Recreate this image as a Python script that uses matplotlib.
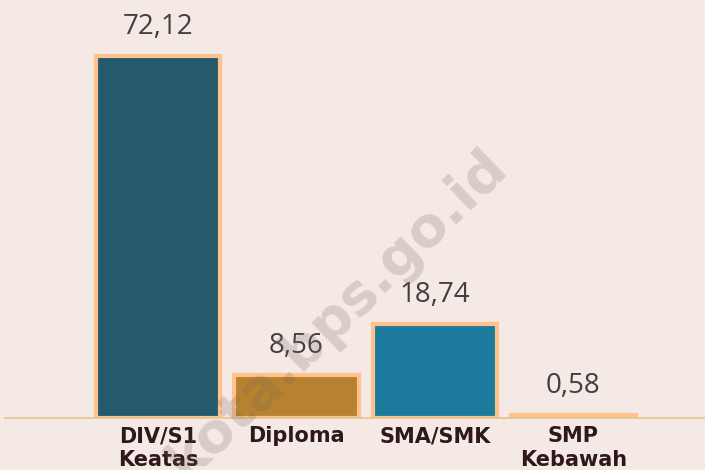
import matplotlib
matplotlib.use('Agg')
import matplotlib.pyplot as plt

# data
categories = ["DIV/S1\nKeatas", "Diploma", "SMA/SMK", "SMP\nKebawah"]
values = [72.12, 8.56, 18.74, 0.58]
value_labels = ["72,12", "8,56", "18,74", "0,58"]
bar_colors = ["#245a6b", "#b7822f", "#1c7a9c", "#e9a86a"]

bg = "#f4e9e5"

fig = plt.figure(figsize=(7.05, 4.7), dpi=100, facecolor=bg)
ax = fig.add_axes([5 / 705, 52 / 470, 700 / 705, 418 / 470])
ax.set_facecolor(bg)

x = list(range(len(categories)))
ax.bar(x, values, width=0.9, color=bar_colors, edgecolor="#ffc28c", linewidth=3, zorder=2)

# value labels above each bar
for xi, v, lab in zip(x, values, value_labels):
    ax.annotate(lab, (xi, v), xytext=(0, 16), textcoords="offset points",
                ha="center", va="baseline", fontsize=20, color="#404040",
                family="Open Sans")

ax.set_xlim(-1.105, 3.95)
ax.set_ylim(0, 83.3)

ax.set_xticks(x)
ax.set_xticklabels(categories, fontsize=15, fontweight="bold", color="#2e181c",
                   family="DejaVu Sans", linespacing=1.2)
ax.tick_params(axis="x", length=0, pad=6)
ax.set_yticks([])

for s in ["top", "right", "left"]:
    ax.spines[s].set_visible(False)
ax.spines["bottom"].set_color("#e3c48e")
ax.spines["bottom"].set_linewidth(1.2)
ax.spines["bottom"].set_zorder(3)

# watermark (runs off the bottom edge, as in the original)
fig.text(0.478, 0.33, "kota.bps.go.id", rotation=44, ha="center", va="center",
         fontsize=40, fontweight="bold", color="#7a6560", alpha=0.22,
         family="DejaVu Sans", zorder=10)

fig.savefig("out.png", dpi=100, facecolor=bg)
